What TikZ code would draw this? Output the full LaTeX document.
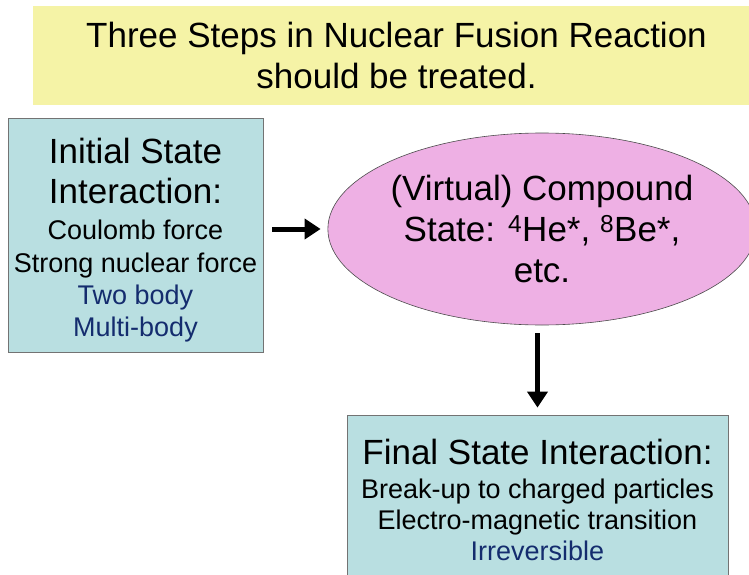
\documentclass[tikz,border=0pt]{standalone}
\usepackage{fontspec}
\setmainfont{Liberation Sans}
\usepackage{tikz}
\usetikzlibrary{arrows.meta,shapes.geometric}
\definecolor{titleyellow}{HTML}{F5F3A6}
\definecolor{boxblue}{HTML}{B9DFE1}
\definecolor{ellpink}{HTML}{EEB0E4}
\definecolor{navytext}{HTML}{142C6E}
\newcommand{\bigtxt}{\fontsize{35}{40}\selectfont}
\begin{document}
\begin{tikzpicture}[x=1pt,y=-1pt,
  statebox/.style={draw=black!55, line width=0.8pt, fill=boxblue, align=center, inner sep=0pt,
    font=\fontsize{27}{32}\selectfont},
  fatarrow/.style={line width=5pt, -{Triangle[length=16pt,width=20pt]}}]
\useasboundingbox (0,0) rectangle (749,575);
\node[fill=titleyellow, minimum width=727pt, minimum height=99pt, inner sep=0pt, align=center,
  font=\fontsize{35}{41}\selectfont] (title) at (396.5,55.5)
  {Three Steps in Nuclear Fusion Reaction\\should be treated.};
\node[statebox, minimum width=255pt, minimum height=234pt] (init) at (135.5,235)
  {{\bigtxt\rule{0pt}{36pt}Initial State}\\[8pt]{\bigtxt Interaction:}\\[4pt]Coulomb force\\[1pt]Strong nuclear force\\
   \textcolor{navytext}{Two body}\\\textcolor{navytext}{Multi-body}};
\node[ellipse, draw=black!70, line width=0.6pt, fill=ellpink, minimum width=380pt, minimum height=192pt,
  inner sep=0pt, align=center, font=\fontsize{35}{41}\selectfont] (comp) at (542,229)
  {(Virtual) Compound\\State: \textsuperscript{4}He*, \textsuperscript{8}Be*,\\etc.};
\node[statebox, minimum width=381pt, minimum height=170pt, font=\fontsize{27}{31}\selectfont] (final) at (537.5,500)
  {{\bigtxt Final State Interaction:}\\[3pt]Break-up to charged particles\\Electro-magnetic transition\\
   \textcolor{navytext}{Irreversible}};
\draw[fatarrow, shorten <=9pt, shorten >=7pt] (init.east |- comp.west) -- (comp.west);
\draw[fatarrow, shorten <=8pt, shorten >=7pt] (comp.south -| final.north) -- (final.north);
\end{tikzpicture}
\end{document}
